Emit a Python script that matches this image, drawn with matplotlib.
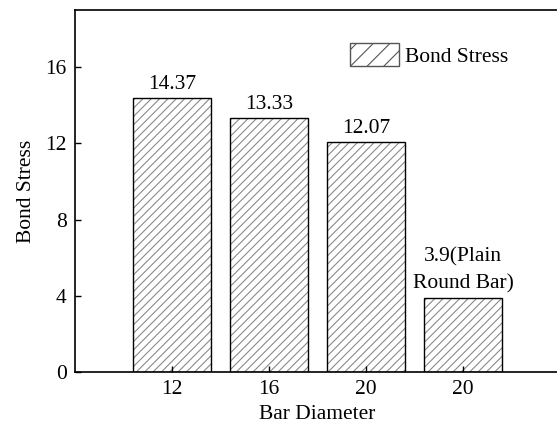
import matplotlib.pyplot as plt

plt.rcParams['font.family'] = ['Liberation Serif', 'DejaVu Serif']
plt.rcParams['hatch.linewidth'] = 0.8

# data
tick_labels = ["12", "16", "20", "20"]
bond_stress = [14.37, 13.33, 12.07, 3.9]
bar_texts = ["14.37", "13.33", "12.07", "3.9(Plain\nRound Bar)"]

FS = 15.5

fig = plt.figure(figsize=(5.57, 4.24), dpi=100)
# right spine sits just outside the picture, as in the original
ax = fig.add_axes([0.1346, 0.1226, 0.8707, 0.8538])

positions = range(1, len(bond_stress) + 1)
# grey hatching first, black outline on top
hatched = ax.bar(positions, bond_stress, width=0.8, facecolor='white',
                 edgecolor='#8a8a8a', linewidth=0, hatch='////')
outline = ax.bar(positions, bond_stress, width=0.8, facecolor='none',
                 edgecolor='black', linewidth=1.0)

for b, txt in zip(outline, bar_texts):
    ax.annotate(txt, (b.get_x() + b.get_width() / 2, b.get_height()),
                xytext=(0, 3), textcoords='offset points',
                ha='center', va='bottom', fontsize=FS, linespacing=1.55)

ax.set_xlim(0, 5)
ax.set_ylim(0, 19)
ax.set_xticks(list(positions))
ax.set_xticklabels(tick_labels)
ax.set_yticks([0, 4, 8, 12, 16])
ax.tick_params(direction='in', length=4.5, width=1, labelsize=FS, pad=6)
ax.tick_params(axis='x', pad=6)

for s in ax.spines.values():
    s.set_linewidth(1.2)

ax.set_xlabel("Bar Diameter", fontsize=FS, labelpad=4)
ax.set_ylabel("Bond Stress", fontsize=FS, labelpad=7)

leg_patch = plt.Rectangle((0, 0), 1, 1, facecolor='white', edgecolor='#555555',
                          linewidth=1.0, hatch='//')
ax.legend([leg_patch], ['Bond Stress'], loc='upper left',
          bbox_to_anchor=(0.567, 0.91), borderpad=0, borderaxespad=0,
          frameon=False, fontsize=FS, handlelength=2.28, handleheight=1.3,
          handletextpad=0.3)

fig.savefig("out.png", dpi=100)
